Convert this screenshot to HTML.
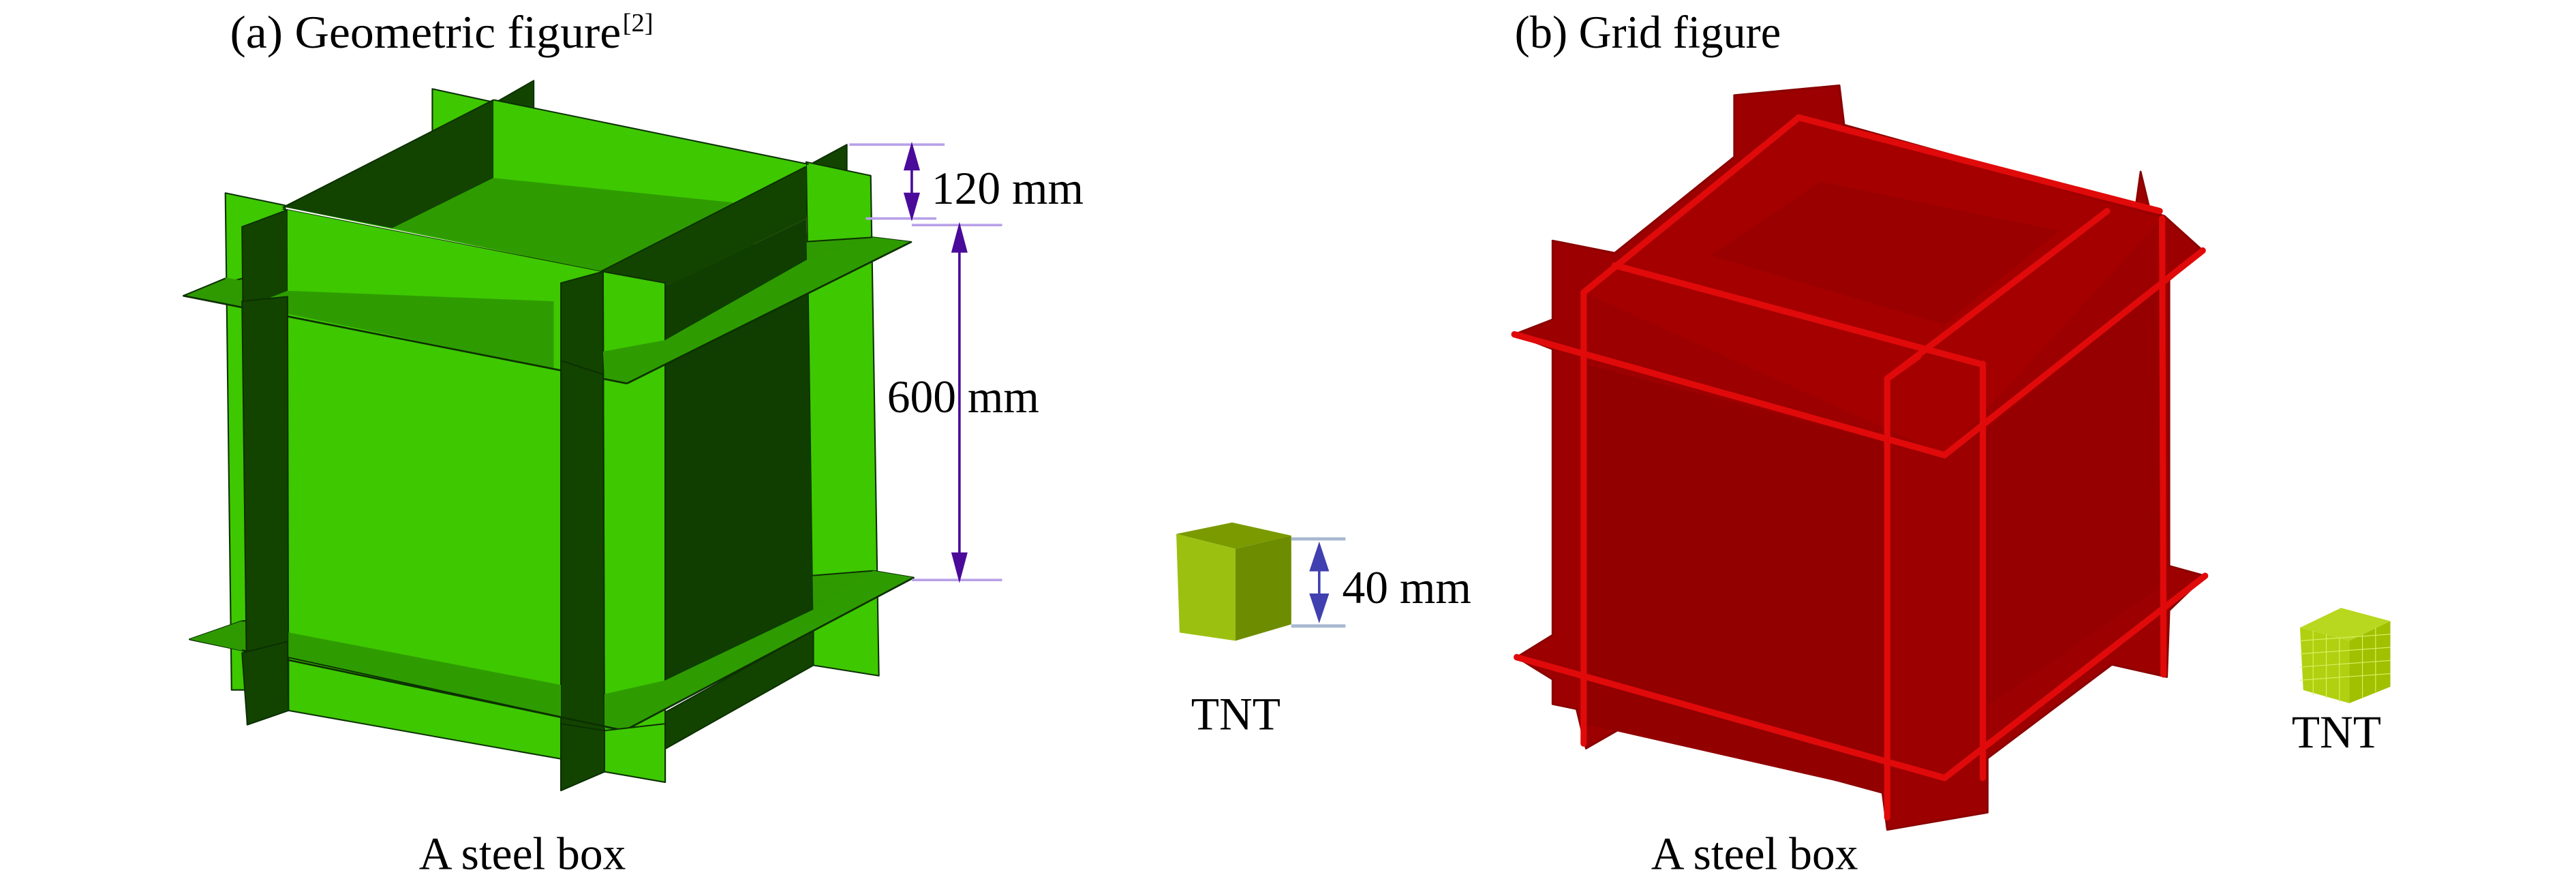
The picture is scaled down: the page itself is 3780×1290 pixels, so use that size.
<!DOCTYPE html>
<html><head><meta charset="utf-8"><style>
html,body{margin:0;padding:0;background:#fff;}
svg{display:block;}
text{font-family:"Liberation Serif",serif;fill:#000;}
</style></head><body>
<svg width="3780" height="1290" viewBox="0 0 1568 535" preserveAspectRatio="none" xmlns="http://www.w3.org/2000/svg">
<rect width="1568" height="535" fill="#fff"/>
<text x="140" y="29" font-size="28" textLength="238" lengthAdjust="spacingAndGlyphs">(a) Geometric figure</text>
<text x="379" y="19" font-size="16">[2]</text>
<text x="922" y="29" font-size="28" textLength="162" lengthAdjust="spacingAndGlyphs">(b) Grid figure</text>

<!-- ===== Green box ===== -->
<g transform="translate(103.7,52.7) scale(0.291,0.278)" stroke="#0c3000" stroke-width="3" stroke-linejoin="round">
<polygon points="548,5 680,35 680,200 548,160" fill="#3ec800"/>
<polygon points="680,35 760,-13 760,60 680,80" fill="#124400"/>
<polygon points="1330,175 1415,127 1415,200 1330,230" fill="#124400"/>
<polygon points="1330,165 1465,195 1482,1290 1345,1267" fill="#3ec800"/>
<polygon points="115,233 240,260 247,1321 128,1321" fill="#3ec800"/>
<polygon points="27,458 150,420 1470,330 1550,340 955,650" fill="#2f9a00"/>
<polygon points="40,1210 150,1170 1470,1060 1555,1075 950,1410" fill="#2f9a00"/>
<!-- top face -->
<polygon points="235,263 676,29 1330,170 900,405" fill="#3ec800" stroke="none"/>
<polygon points="235,263 676,29 676,200 464,310" fill="#124400" stroke="none"/>
<polygon points="464,310 676,200 1330,270 1030,440 900,405" fill="#2e9c00" stroke="none"/>
<polygon points="676,29 1330,170 1330,270 676,200" fill="#3ec800" stroke="none"/>
<polygon points="900,405 1330,175 1330,290 1030,440" fill="#124400" stroke="none"/>
<line x1="235" y1="265" x2="676" y2="29"/>
<line x1="676" y1="29" x2="1335" y2="170"/>
<line x1="235" y1="268" x2="900" y2="405"/>
<line x1="900" y1="405" x2="1330" y2="175"/>
<!-- left dark fin -->
<polygon points="150,307 245,270 247,1366 161,1397" fill="#124400"/>
<!-- front wall -->
<polygon points="245,270 900,405 905,1472 247,1366" fill="#3ec800" stroke="none"/>
<!-- right dark face -->
<polygon points="1030,440 1330,290 1345,1160 1035,1320" fill="#0f3e00" stroke="none"/>
<!-- light strip -->
<polygon points="905,405 1035,430 1035,1523 908,1500" fill="#3ec800"/>
<!-- corner dark fin -->
<polygon points="817,430 905,405 908,1500 817,1541" fill="#124400"/>
<!-- top plate bands -->
<polygon points="164,480 245,447 802,470 802,618" fill="#2e9c00" stroke="none"/>
<polygon points="27,458 115,418 150,425 150,480" fill="#2f9a00" stroke="none"/>
<polygon points="905,580 1035,555 1330,380 1470,330 1550,340 955,650 908,640" fill="#2e9c00" stroke="none"/>
<line x1="27" y1="458" x2="955" y2="650" stroke-width="4"/>
<line x1="955" y1="650" x2="1550" y2="340" stroke-width="4"/>
<line x1="27" y1="458" x2="115" y2="420"/>
<polygon points="817,600 905,630 908,1500 817,1541" fill="#124400"/>
<polygon points="150,470 245,460 247,1366 161,1397" fill="#124400"/>
<!-- bottom section -->
<polygon points="247,1195 817,1310 817,1380 247,1250" fill="#2e9c00" stroke="none"/>
<polygon points="247,1250 817,1380 817,1472 247,1366" fill="#3ec800"/>
<polygon points="1035,1370 1345,1190 1345,1267 1035,1450" fill="#124400"/>
<polygon points="908,1330 1035,1300 1345,1145 1470,1060 1555,1075 950,1410 908,1405" fill="#2e9c00" stroke="none"/>
<line x1="40" y1="1210" x2="950" y2="1410" stroke-width="4"/>
<line x1="950" y1="1410" x2="1555" y2="1075" stroke-width="4"/>
<line x1="40" y1="1210" x2="150" y2="1170"/>
<polygon points="40,1210 150,1170 150,1235" fill="#2f9a00" stroke="none"/>
<polygon points="150,1240 245,1215 247,1366 161,1397" fill="#124400"/>
<polygon points="817,1395 908,1410 908,1500 817,1541" fill="#124400"/>
<polygon points="908,1410 1035,1395 1035,1523 908,1500" fill="#3ec800"/>
</g>

<g stroke="#b8a0e8" stroke-width="1.5">
<line x1="517" y1="88" x2="575" y2="88"/>
<line x1="527" y1="133" x2="570" y2="133"/>
<line x1="555" y1="137" x2="610" y2="137"/>
<line x1="555" y1="353" x2="610" y2="353"/>
</g>
<g stroke="#4a0a9a" stroke-width="1.5" fill="#4a0a9a">
<line x1="555" y1="95" x2="555" y2="127"/>
<polygon points="555,89 551,103 559,103"/>
<polygon points="555,132 551,118 559,118"/>
<line x1="584" y1="145" x2="584" y2="347"/>
<polygon points="584,138 580,153 588,153"/>
<polygon points="584,352 580,337 588,337"/>
</g>
<text x="567" y="124" font-size="28">120 mm</text>
<text x="540" y="251" font-size="28">600 mm</text>
<text x="255" y="529" font-size="28">A steel box</text>

<polygon points="716,325 750,318 786,326 752,334" fill="#7a9a00"/>
<polygon points="716,325 752,334 752,390 718,385" fill="#9cc010"/>
<polygon points="752,334 786,326 786,380 752,390" fill="#6e8c00"/>
<g stroke="#a8b8d0" stroke-width="2">
<line x1="786" y1="328" x2="819" y2="328"/>
<line x1="786" y1="381" x2="819" y2="381"/>
</g>
<g fill="#4040b0" stroke="#4040b0" stroke-width="1.5">
<line x1="803" y1="340" x2="803" y2="370"/>
<polygon points="803,332 798,347 808,347"/>
<polygon points="803,377 798,362 808,362"/>
</g>
<text x="817" y="367" font-size="28">40 mm</text>
<text x="725" y="444" font-size="28">TNT</text>

<!-- ===== Red box ===== -->
<g transform="translate(904.3,41.5) scale(0.291,0.30)">
<polygon fill="#9c0000" stroke="#8a0000" stroke-width="4" stroke-linejoin="round" points="60,540 140,510 140,350 270,375 520,180 520,55 740,35 750,115 1360,280 1370,210 1390,290 1420,300 1500,370 1430,430 1430,1010 1505,1030 1430,1100 1425,1235 1310,1210 1050,1400 1050,1510 840,1545 830,1470 300,1330 210,1380 190,1300 140,1290 140,1240 65,1195 140,1150 140,570"/>
<polygon points="205,455 655,100 1415,305 960,785" fill="#a40000"/>
<polygon points="470,380 700,230 1200,330 960,520" fill="#9a0000"/>
<polygon points="205,600 840,760 840,1470 205,1330" fill="#920000"/>
<polygon points="1040,740 1415,440 1415,1050 1040,1300" fill="#960000"/>
<g stroke="#e00a0a" stroke-width="13" fill="none" stroke-linecap="round">
<line x1="60" y1="540" x2="960" y2="785"/>
<line x1="960" y1="785" x2="1500" y2="370"/>
<line x1="270" y1="400" x2="1035" y2="600"/>
<line x1="655" y1="100" x2="1410" y2="290"/>
<line x1="205" y1="455" x2="655" y2="100"/>
<line x1="840" y1="630" x2="1300" y2="290"/>
<line x1="840" y1="630" x2="905" y2="585"/>
<line x1="205" y1="455" x2="205" y2="1370"/>
<line x1="840" y1="630" x2="840" y2="1520"/>
<line x1="1040" y1="600" x2="1040" y2="1440"/>
<line x1="1415" y1="305" x2="1418" y2="1230"/>
<line x1="65" y1="1195" x2="960" y2="1440"/>
<line x1="960" y1="1440" x2="1505" y2="1030"/>
</g>
</g>
<polygon points="1400,382 1425,370 1455,378 1430,390" fill="#b8d820"/>
<polygon points="1400,382 1430,390 1430,428 1402,420" fill="#b0d010"/>
<polygon points="1430,390 1455,378 1455,418 1430,428" fill="#a0c000"/>
<g stroke="#d8f060" stroke-width="0.5">
<line x1="1400" y1="390" x2="1455" y2="386"/><line x1="1400" y1="398" x2="1455" y2="394"/>
<line x1="1400" y1="406" x2="1455" y2="402"/><line x1="1400" y1="414" x2="1455" y2="410"/>
<line x1="1408" y1="384" x2="1408" y2="423"/><line x1="1416" y1="386" x2="1416" y2="425"/>
<line x1="1424" y1="388" x2="1424" y2="427"/><line x1="1438" y1="386" x2="1438" y2="425"/>
<line x1="1446" y1="382" x2="1446" y2="421"/>
</g>
<text x="1395" y="455" font-size="28">TNT</text>
<text x="1005" y="529" font-size="28">A steel box</text>
</svg>
</body></html>
